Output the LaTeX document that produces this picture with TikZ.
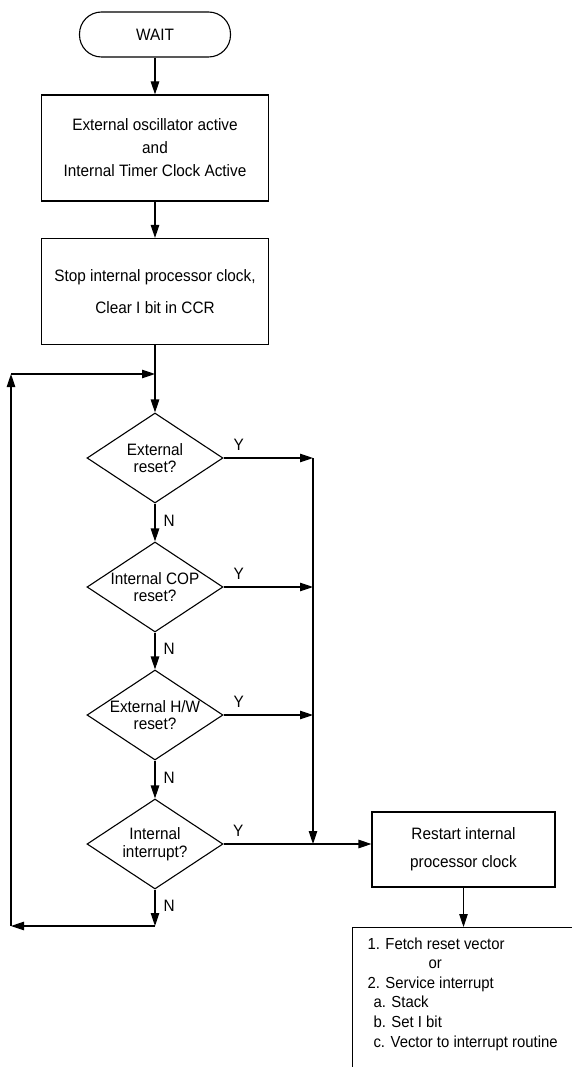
\documentclass[tikz,border=0pt]{standalone}
\usepackage{fontspec}
\setmainfont{Liberation Sans}[FakeStretch=0.93]
\usetikzlibrary{arrows.meta,shapes.geometric,positioning}

\begin{document}
\begin{tikzpicture}[x=1pt,y=-1pt,->,>={Triangle[length=13pt,width=8.5pt]},
                    line width=1.1pt,font=\fontsize{16.5}{18}\selectfont]
  \tikzstyle{terminal}=[draw,rounded corners=22pt,minimum width=151pt,minimum height=45pt]
  \tikzstyle{process}=[draw,minimum width=227pt,minimum height=106pt,align=center]
  \tikzstyle{decision}=[draw,diamond,aspect=1.51,minimum width=136pt,minimum height=90pt,
                        inner sep=-3pt,align=center,font=\fontsize{16.5}{17.5}\selectfont]
  \tikzstyle{answer}=[inner sep=3pt]

  \useasboundingbox (0,0) rectangle (572,1067);

  \node[terminal] (wait)  at (155,34.5) {WAIT};
  \node[process,font=\fontsize{16.5}{23}\selectfont] (osc)  at (155,148)
        {External oscillator active\\and\\Internal Timer Clock Active};
  \node[process,font=\fontsize{16.5}{32}\selectfont] (stop) at (155,291.5)
        {Stop internal processor clock,\\Clear I bit in CCR};
  \node[decision] (ext) at (155,458) {External\\reset?};
  \node[decision] (cop) at (155,587) {Internal COP\\reset?};
  \node[decision] (hw)  at (155,715) {External H/W\\reset?};
  \node[decision] (irq) at (155,844) {Internal\\interrupt?};
  \node[process,minimum width=183pt,minimum height=75pt,font=\fontsize{16.5}{28}\selectfont]
        (restart) at (463.5,849.5) {Restart internal\\processor clock};
  \node[draw,anchor=north west,minimum width=260pt,minimum height=170pt] (steps) at (352,927) {};
  \node[anchor=north west,align=left,inner sep=0pt,font=\fontsize{16}{19.6}\selectfont]
        (stepstext) at (367,937)
        {1. Fetch reset vector\\
         \hspace*{61pt}or\\
         2. Service interrupt\\
         \hspace*{6pt}a. Stack\\
         \hspace*{6pt}b. Set I bit\\
         \hspace*{6pt}c. Vector to interrupt routine};

  \coordinate (merge) at (155,374);
  \coordinate (bus)   at (313,458);
  \coordinate (out)   at (155,926);
  \coordinate (ret)   at (11,926);
  \coordinate (back)  at (11,374);

  \path (wait) edge (osc)
        (osc) edge (stop)
        (stop) edge[-] (merge)
        (merge) edge (ext)
        (ext) edge node[answer,right,pos=0.45,xshift=5pt] {N} (cop)
        (cop) edge node[answer,right,pos=0.45,xshift=5pt] {N} (hw)
        (hw)  edge node[answer,right,pos=0.45,xshift=5pt] {N} (irq)
        (irq) edge node[answer,right,pos=0.45,xshift=5pt] {N} (out)
        (out) edge (ret)
        (ret) edge (back)
        (back) edge (merge);

  \path (ext.east) edge node[answer,above,pos=0.17,yshift=4pt] {Y} (ext.east -| bus)
        (cop.east) edge node[answer,above,pos=0.17,yshift=4pt] {Y} (cop.east -| bus)
        (hw.east)  edge node[answer,above,pos=0.17,yshift=4pt] {Y} (hw.east -| bus)
        (irq.east) edge node[answer,above,pos=0.1,yshift=4pt] {Y} (irq.east -| restart.west)
        (ext.east -| bus) edge (irq.east -| bus)
        (restart) edge (restart.south |- steps.north);
\end{tikzpicture}
\end{document}
